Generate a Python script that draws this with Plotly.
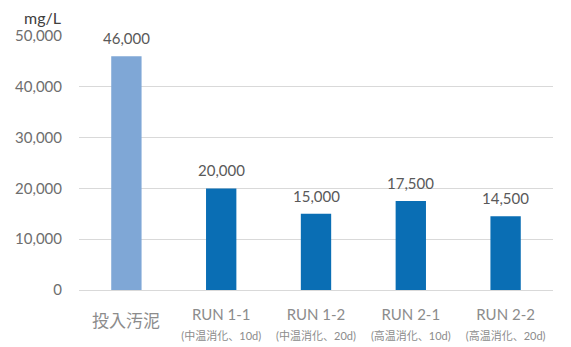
import plotly.graph_objects as go

# Sludge concentration by run
categories = ["投入汚泥", "RUN 1-1", "RUN 1-2", "RUN 2-1", "RUN 2-2"]
sublabels = ["", "(中温消化、10d)", "(中温消化、20d)", "(高温消化、10d)", "(高温消化、20d)"]
values = [46000, 20000, 15000, 17500, 14500]
bar_colors = ["#7FA7D6", "#0A6EB4", "#0A6EB4", "#0A6EB4", "#0A6EB4"]
y_ticks = [0, 10000, 20000, 30000, 40000, 50000]

FONT = "Lato, 'Noto Sans CJK JP', sans-serif"
CJK = "'Noto Sans CJK JP', sans-serif"

# two-line labels for the runs; the single-line feed label is placed
# separately so it sits centred on both lines
tick_text = []
for c, s in zip(categories, sublabels):
    if s:
        tick_text.append(f"{c}<br><span style='font-size:11px'>{s}</span>")
    else:
        tick_text.append("")

fig = go.Figure()
fig.add_trace(
    go.Bar(
        x=categories,
        y=values,
        marker=dict(color=bar_colors, line=dict(width=0)),
        width=0.32,
        hoverinfo="skip",
    )
)

annotations = [
    dict(
        x=c,
        y=v,
        xref="x",
        yref="y",
        text=f"{v:,}",
        showarrow=False,
        yanchor="bottom",
        yshift=7,
        font=dict(family=FONT, size=15, color="#595959"),
    )
    for c, v in zip(categories, values)
]
for c, s in zip(categories, sublabels):
    if not s:
        annotations.append(
            dict(
                x=c,
                y=0,
                xref="x",
                yref="paper",
                text=c,
                showarrow=False,
                yanchor="middle",
                yshift=-29,
                font=dict(family=CJK, size=17, color="#8C8C8C"),
            )
        )
annotations.append(
    dict(
        text="mg/L",
        xref="paper",
        yref="paper",
        x=0,
        xshift=-16,
        y=1.0,
        yshift=7,
        xanchor="right",
        yanchor="bottom",
        showarrow=False,
        font=dict(family=FONT, size=16, color="#404040"),
    )
)

fig.update_layout(
    width=571,
    height=347,
    margin=dict(l=79, r=18, t=36, b=57),
    paper_bgcolor="white",
    plot_bgcolor="white",
    showlegend=False,
    font=dict(family=FONT, color="#8C8C8C"),
    xaxis=dict(
        tickmode="array",
        tickvals=categories,
        ticktext=tick_text,
        tickfont=dict(family=FONT, size=15, color="#8C8C8C"),
        showline=True,
        linecolor="#D9D9D9",
        linewidth=1,
        ticks="",
        ticklabelstandoff=11,
        showgrid=False,
        automargin=False,
    ),
    yaxis=dict(
        range=[0, 50000],
        tickvals=y_ticks,
        ticktext=[f"{v:,}" for v in y_ticks],
        tickfont=dict(family=FONT, size=15, color="#6E6E6E"),
        showgrid=True,
        gridcolor="#D9D9D9",
        gridwidth=1,
        zeroline=False,
        ticks="",
        ticklabelstandoff=16,
        automargin=False,
    ),
    annotations=annotations,
)

fig.write_html("out.html")
